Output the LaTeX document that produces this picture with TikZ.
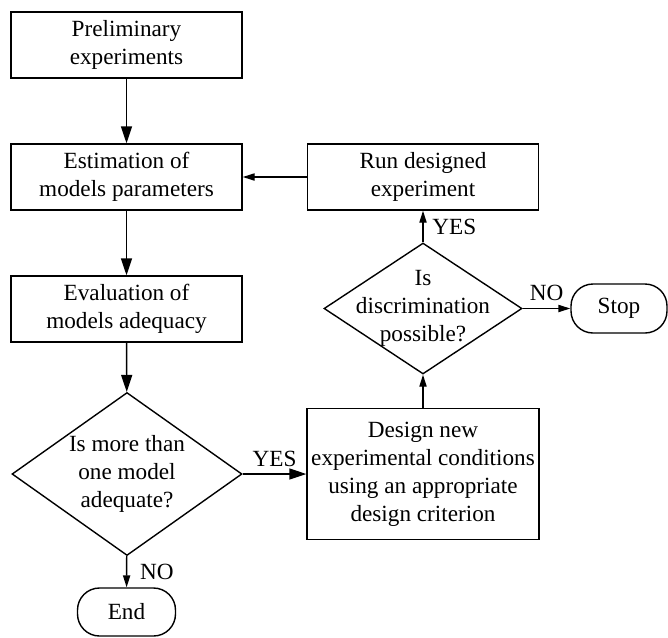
\documentclass[tikz,border=0pt]{standalone}
\usepackage{fontspec}
\setmainfont{Liberation Serif}
\usetikzlibrary{shapes.geometric,arrows.meta}

\begin{document}
\begin{tikzpicture}[x=0.5pt,y=-0.5pt,line width=0.7pt,
  font=\fontsize{11.6pt}{14pt}\selectfont,
  box/.style={rectangle,draw,align=center,minimum width=115.5pt,minimum height=33pt,inner sep=0pt},
  decision/.style={diamond,draw,inner sep=0pt},
  term/.style={rectangle,draw,rounded corners=11pt,minimum width=49pt,minimum height=24pt},
  big/.style={-{Triangle[length=8.5pt,width=5.5pt]}},
  small/.style={-{Triangle[length=6pt,width=3.6pt]}}]
\useasboundingbox (0,0) rectangle (668,637);
% left column
\node [box] (pre) at (126.5,45) {Preliminary\\experiments};
\node [box] (est) at (126.5,177) {Estimation of\\models parameters};
\node [box] (eva) at (126.5,309) {Evaluation of\\models adequacy};
\node [decision,minimum width=115pt,minimum height=81.5pt,
       label={[align=center]center:Is more than\\one model\\adequate?}] (q1) at (127,474) {};
\node [term] (fin) at (126.5,612) {End};
% right column
\node [box,minimum width=116pt,minimum height=65.5pt] (des) at (423,474)
      {Design new\\experimental conditions\\using an appropriate\\design criterion};
\node [decision,minimum width=99pt,minimum height=65.5pt,
       label={[align=center]center:Is\\discrimination\\possible?}] (q2) at (423,308.5) {};
\node [box] (run) at (423,177) {Run designed\\experiment};
\node [term,minimum width=48pt,minimum height=24.5pt] (stop) at (619,308.5) {Stop};
% connectors
\draw [big] (pre) -- (est);
\draw [big] (est) -- (eva);
\draw [big] (eva) -- (q1);
\draw [big] (q1) -- node [above] {YES} (des);
\draw [small] (q1) -- node [right=3pt] {NO} (fin);
\draw [small] (des) -- (q2);
\draw [small] (q2) -- node [right=1pt] {YES} (run);
\draw [small] (q2) -- node [above] {NO} (stop);
\draw [small] (run) -- (est);
\end{tikzpicture}
\end{document}
